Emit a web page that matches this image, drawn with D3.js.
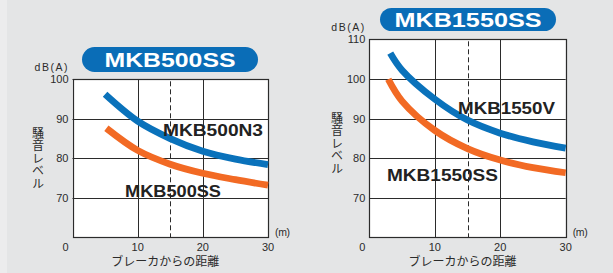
<!DOCTYPE html>
<html><head><meta charset="utf-8">
<script src="https://cdn.jsdelivr.net/npm/d3@7"></script>
<style>html,body{margin:0;padding:0;background:#e4e5e6;}svg{display:block;}</style>
</head><body>
<svg id="c" width="613" height="273"></svg>
<script>
// ---- data ----
const distTicks = [0, 10, 20, 30];
const leftTitle = "MKB500SS";
const leftYTicks = [70, 80, 90, 100];
const leftBlueName = "MKB500N3";
const leftBlueX = [5, 10, 15, 20, 25, 30];
const leftBlueY = [96.2, 89.4, 85.0, 81.8, 79.8, 78.4];
const leftOrangeName = "MKB500SS";
const leftOrangeX = [5.2, 10, 15, 20, 25, 30];
const leftOrangeY = [87.6, 82.0, 78.5, 76.2, 74.6, 73.2];

const rightTitle = "MKB1550SS";
const rightYTicks = [70, 80, 90, 100, 110];
const rightBlueName = "MKB1550V";
const rightBlueX = [3.2, 5, 10, 15, 20, 25, 30];
const rightBlueY = [106.5, 102.2, 94.9, 89.6, 86.3, 84.1, 82.5];
const rightOrangeName = "MKB1550SS";
const rightOrangeX = [2.9, 5, 10, 15, 20, 25, 30];
const rightOrangeY = [99.9, 94.4, 87.0, 82.4, 79.5, 77.6, 76.3];

const yTitle = "騒音レベル";
const xTitle = "ブレーカからの距離";
const yUnit = "dB(A)";
const xUnit = "(m)";

// ---- drawing ----
const svg = d3.select("#c");
svg.append("rect").attr("x",0).attr("y",0).attr("width",613).attr("height",273).attr("fill","#e4e5e6");
svg.append("rect").attr("x",0).attr("y",0).attr("width",7).attr("height",273).attr("fill","#ececed");

const BLUE = "#0a72bb", ORANGE = "#f26a24", PILL = "#0a6db7", INK = "#2b2b2b";
const FONT = "'Liberation Sans', Arial, Helvetica, sans-serif";
const JFONT = "'Noto Sans CJK JP', 'Noto Sans', sans-serif";

function chart(o) {
  const g = svg.append("g");
  const x = d3.scaleLinear().domain([0, 30]).range([o.x0, o.x1]);
  const y = d3.scaleLinear().domain([60, o.ymax]).range([o.y1, o.y0]);

  // plot area
  g.append("rect").attr("x", x(0)).attr("y", y(o.ymax)).attr("width", x(30) - x(0))
    .attr("height", y(60) - y(o.ymax)).attr("fill", "#fff");

  // grid lines
  g.selectAll(".hg").data(o.yTicks).join("line")
    .attr("x1", x(0)).attr("x2", x(30)).attr("y1", d => Math.round(y(d)) + 0.5).attr("y2", d => Math.round(y(d)) + 0.5)
    .attr("stroke", INK).attr("stroke-width", 1);
  g.selectAll(".vg").data(distTicks.slice(1, 3)).join("line")
    .attr("y1", y(o.ymax)).attr("y2", y(60)).attr("x1", d => Math.round(x(d)) + 0.5).attr("x2", d => Math.round(x(d)) + 0.5)
    .attr("stroke", INK).attr("stroke-width", 1);
  g.append("line").attr("x1", Math.round(x(15)) + 0.5).attr("x2", Math.round(x(15)) + 0.5)
    .attr("y1", y(o.ymax) + 2).attr("y2", y(60)).attr("stroke", INK).attr("stroke-width", 1)
    .attr("stroke-dasharray", "5,3");
  g.append("rect").attr("x", Math.round(x(0)) + 0.5).attr("y", Math.round(y(o.ymax)) + 0.5)
    .attr("width", Math.round(x(30)) - Math.round(x(0))).attr("height", Math.round(y(60)) - Math.round(y(o.ymax)))
    .attr("fill", "none").attr("stroke", INK).attr("stroke-width", 1.2);

  // curves
  const line = d3.line().x(d => x(d[0])).y(d => y(d[1])).curve(d3.curveCatmullRom.alpha(0.5));
  g.append("path").datum(d3.zip(o.ox, o.oy)).attr("d", line)
    .attr("fill", "none").attr("stroke", ORANGE).attr("stroke-width", 6.8);
  g.append("path").datum(d3.zip(o.bx, o.by)).attr("d", line)
    .attr("fill", "none").attr("stroke", BLUE).attr("stroke-width", 6.8);

  // y tick labels
  g.selectAll(".yl").data(o.yTicks).join("text")
    .attr("x", x(0) - 4).attr("y", d => y(d) + 4).attr("text-anchor", "end")
    .attr("font-family", FONT).attr("font-size", 11).attr("fill", INK).text(d => d);
  // x tick labels
  g.selectAll(".xl").data(distTicks).join("text")
    .attr("x", d => x(d) - (d === 0 ? 7 : 0)).attr("y", 251).attr("text-anchor", "middle")
    .attr("font-family", FONT).attr("font-size", 11).attr("fill", INK).text(d => d);

  // units
  g.append("text").attr("x", x(0) - 5).attr("y", o.unitY).attr("text-anchor", "end")
    .attr("font-family", FONT).attr("font-size", 10.5).attr("fill", INK)
    .attr("textLength", 33).attr("lengthAdjust", "spacing").text(yUnit);
  g.append("text").attr("x", x(30) + 7).attr("y", 236)
    .attr("font-family", FONT).attr("font-size", 10.5).attr("fill", INK)
    .attr("textLength", 15).attr("lengthAdjust", "spacing").text(xUnit);

  // axis titles
  g.append("text").attr("x", (x(0) + x(30)) / 2 - 5).attr("y", 266).attr("text-anchor", "middle")
    .attr("font-family", JFONT).attr("font-size", 12).attr("fill", INK).text(xTitle);
  g.append("text").attr("x", o.ytx).attr("y", o.yty)
    .attr("writing-mode", "vertical-rl").style("writing-mode", "vertical-rl")
    .attr("font-family", JFONT).attr("font-size", 12).attr("fill", INK)
    .attr("letter-spacing", 0.5).text(yTitle);

  // pill title
  const pw = 176, ph = o.pillH;
  g.append("rect").attr("x", o.pillX - pw / 2).attr("y", o.pillY).attr("width", pw).attr("height", ph)
    .attr("rx", ph / 2).attr("ry", ph / 2).attr("fill", PILL);
  g.append("text").attr("x", o.pillX).attr("y", o.pillY + ph / 2 + 7.5).attr("text-anchor", "middle")
    .attr("font-family", FONT).attr("font-weight", "bold").attr("font-size", 21).attr("fill", "#fff")
    .attr("textLength", o.titleW).attr("lengthAdjust", "spacingAndGlyphs").text(o.title);

  // series labels
  g.append("text").attr("x", o.bLab[0]).attr("y", o.bLab[1]).attr("font-family", FONT)
    .attr("font-weight", "bold").attr("font-size", 17).attr("fill", "#222")
    .attr("textLength", o.bLab[2]).attr("lengthAdjust", "spacingAndGlyphs").text(o.bName);
  g.append("text").attr("x", o.oLab[0]).attr("y", o.oLab[1]).attr("font-family", FONT)
    .attr("font-weight", "bold").attr("font-size", 17).attr("fill", "#222")
    .attr("textLength", o.oLab[2]).attr("lengthAdjust", "spacingAndGlyphs").text(o.oName);
}

chart({
  x0: 72.5, x1: 268, y0: 79.3, y1: 237.3, ymax: 100, yTicks: leftYTicks,
  bx: leftBlueX, by: leftBlueY, ox: leftOrangeX, oy: leftOrangeY,
  title: leftTitle, titleW: 131, pillX: 170, pillY: 47, pillH: 25,
  bName: leftBlueName, bLab: [163, 136, 100], oName: leftOrangeName, oLab: [125, 197, 96],
  ytx: 38, yty: 127, unitY: 71
});
chart({
  x0: 369.3, x1: 565.7, y0: 39.3, y1: 237.3, ymax: 110, yTicks: rightYTicks,
  bx: rightBlueX, by: rightBlueY, ox: rightOrangeX, oy: rightOrangeY,
  title: rightTitle, titleW: 147, pillX: 468, pillY: 8, pillH: 23,
  bName: rightBlueName, bLab: [458, 114, 97], oName: rightOrangeName, oLab: [387, 181, 111],
  ytx: 337, yty: 112, unitY: 31
});
</script>
</body></html>
